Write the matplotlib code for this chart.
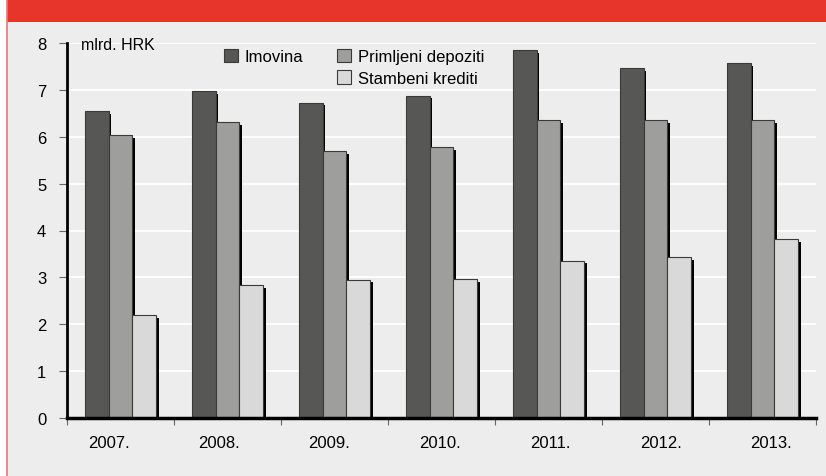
import matplotlib.pyplot as plt
import matplotlib.patheffects as pe
from matplotlib.patches import Patch, Rectangle
import numpy as np

plt.rcParams['font.family'] = ['Liberation Sans', 'DejaVu Sans']

godine = ['2007.', '2008.', '2009.', '2010.', '2011.', '2012.', '2013.']
imovina = [6.55, 6.97, 6.73, 6.88, 7.85, 7.46, 7.57]
depoziti = [6.04, 6.31, 5.70, 5.78, 6.35, 6.35, 6.36]
krediti = [2.20, 2.83, 2.95, 2.96, 3.36, 3.43, 3.82]

serije = ['Imovina', 'Primljeni depoziti', 'Stambeni krediti']
boje = ['#575755', '#9e9e9c', '#d9d9d9']

W, H = 826, 477
fig = plt.figure(figsize=(W / 100, H / 100), dpi=100, facecolor='white')

# pozadina, crvena traka i rub
pozadina = '#ededed'
fig.patches.append(Rectangle((7 / W, 0), 1 - 7 / W, 1, transform=fig.transFigure,
                             facecolor=pozadina, edgecolor='none', zorder=-10))
fig.patches.append(Rectangle((7 / W, 1 - 23 / H), 1 - 7 / W, 23 / H, transform=fig.transFigure,
                             facecolor='#e8352b', edgecolor='none', zorder=-9))
fig.lines.append(plt.Line2D([7 / W, 7 / W], [0, 1], transform=fig.transFigure,
                            color='#e27a72', lw=1.2, zorder=-8))

ax = fig.add_axes([67 / W, 1 - 419 / H, 749 / W, 375 / H])
ax.set_facecolor(pozadina)

x = np.arange(len(godine))
w = 0.224
sjena = [pe.SimplePatchShadow(offset=(2, -2), shadow_rgbFace='black', alpha=1), pe.Normal()]
for k, (vals, boja) in enumerate(zip([imovina, depoziti, krediti], boje)):
    bars = ax.bar(x + (k - 1) * w, vals, width=w, color=boja, edgecolor='#3a3a3a',
                  linewidth=0.8, zorder=3)
    for b in bars:
        b.set_path_effects(sjena)

ax.set_xlim(-0.5, len(godine) - 0.5)
ax.set_ylim(0, 8)
ax.set_yticks(range(0, 9))
ax.yaxis.grid(True, color='white', lw=1.3, zorder=0)
ax.set_axisbelow(True)

ax.set_xticks(np.arange(-0.5, len(godine), 1))
ax.set_xticklabels([])
# natpisi godina u originalu su malo razmaknutiji od stupaca
ax.set_xticks(x * 1.032 - 0.112, minor=True)
ax.set_xticklabels(godine, minor=True)
ax.tick_params(axis='x', which='major', direction='out', length=5, color='#666666')
ax.tick_params(axis='x', which='minor', length=0, pad=12, labelsize=12)
ax.tick_params(axis='y', direction='out', length=6, color='#666666', pad=9, labelsize=12)

for s in ['top', 'right']:
    ax.spines[s].set_visible(False)
ax.spines['left'].set_linewidth(2)
ax.spines['bottom'].set_linewidth(2.5)
ax.spines['left'].set_zorder(5)
ax.spines['bottom'].set_zorder(5)

fig.text(81 / W, 1 - 45 / H, 'mlrd. HRK', fontsize=11.5, va='center', ha='left')

# legenda: Imovina sama u prvom stupcu
ruke = [Patch(facecolor=boje[0], edgecolor='#3a3a3a', lw=0.8),
        Patch(facecolor='none', edgecolor='none'),
        Patch(facecolor=boje[1], edgecolor='#3a3a3a', lw=0.8),
        Patch(facecolor=boje[2], edgecolor='#3a3a3a', lw=0.8)]
oznake = [serije[0], '', serije[1], serije[2]]
ax.legend(ruke, oznake, ncol=2, loc='upper left', bbox_to_anchor=(209 / W, 1 - 35 / H),
          bbox_transform=fig.transFigure, frameon=False, fontsize=12,
          handlelength=0.85, handleheight=0.85, handletextpad=0.4,
          columnspacing=2.0, labelspacing=0.35)

fig.savefig('out.png', dpi=100, facecolor='white')
